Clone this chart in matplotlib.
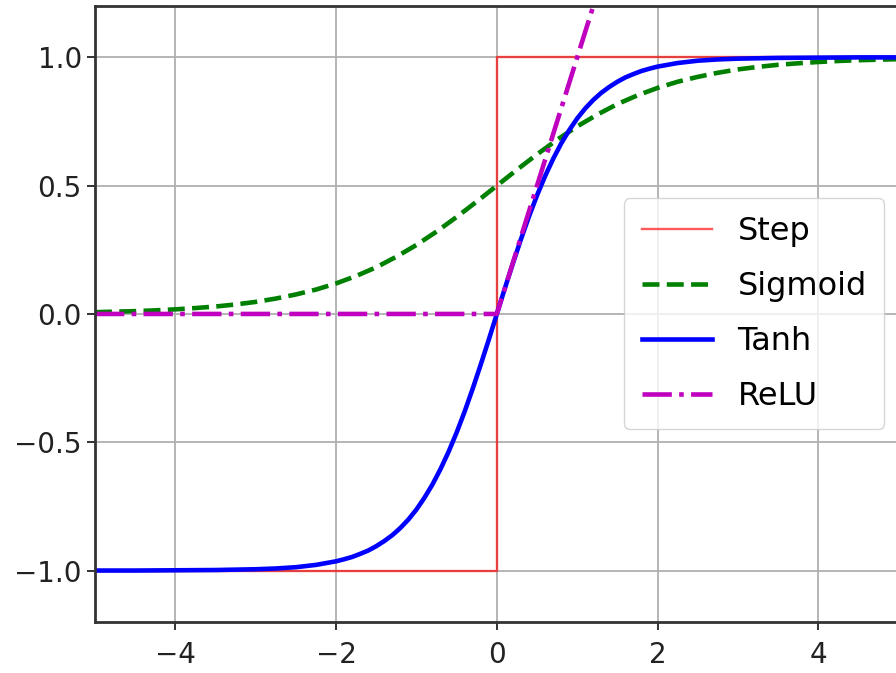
import matplotlib
matplotlib.use("Agg")
import matplotlib.pyplot as plt

# valori letti dal grafico
# sigmoid: passo 0.25 su x
z_sig = [-5.0, -4.75, -4.5, -4.25, -4.0, -3.75, -3.5, -3.25, -3.0, -2.75, -2.5,
         -2.25, -2.0, -1.75, -1.5, -1.25, -1.0, -0.75, -0.5, -0.25, 0.0,
         0.25, 0.5, 0.75, 1.0, 1.25, 1.5, 1.75, 2.0, 2.25, 2.5,
         2.75, 3.0, 3.25, 3.5, 3.75, 4.0, 4.25, 4.5, 4.75, 5.0]
sigmoid_y = [0.007, 0.009, 0.011, 0.014, 0.018, 0.023, 0.029, 0.037, 0.047, 0.060, 0.076,
             0.095, 0.119, 0.148, 0.182, 0.223, 0.269, 0.321, 0.378, 0.438, 0.500,
             0.562, 0.622, 0.679, 0.731, 0.777, 0.818, 0.852, 0.881, 0.905, 0.924,
             0.940, 0.953, 0.963, 0.971, 0.977, 0.982, 0.986, 0.989, 0.991, 0.993]

# tanh: piu fitto vicino allo zero
z_tanh = [-5.0, -4.5, -4.0, -3.5, -3.0, -2.75, -2.5, -2.25, -2.0,
          -1.9, -1.8, -1.7, -1.6, -1.5, -1.4, -1.3, -1.2, -1.1, -1.0,
          -0.9, -0.8, -0.7, -0.6, -0.5, -0.4, -0.3, -0.2, -0.1, 0.0,
          0.1, 0.2, 0.3, 0.4, 0.5, 0.6, 0.7, 0.8, 0.9, 1.0,
          1.1, 1.2, 1.3, 1.4, 1.5, 1.6, 1.7, 1.8, 1.9, 2.0,
          2.25, 2.5, 2.75, 3.0, 3.5, 4.0, 4.5, 5.0]
tanh_y = [-1.000, -1.000, -0.999, -0.998, -0.995, -0.992, -0.987, -0.978, -0.964,
          -0.956, -0.947, -0.935, -0.922, -0.905, -0.885, -0.862, -0.834, -0.801, -0.762,
          -0.716, -0.664, -0.604, -0.537, -0.462, -0.380, -0.291, -0.197, -0.100, 0.000,
          0.100, 0.197, 0.291, 0.380, 0.462, 0.537, 0.604, 0.664, 0.716, 0.762,
          0.801, 0.834, 0.862, 0.885, 0.905, 0.922, 0.935, 0.947, 0.956, 0.964,
          0.978, 0.987, 0.992, 0.995, 0.998, 0.999, 1.000, 1.000]

step_x = [-5, 0, 0, 5]
step_y = [-1, -1, 1, 1]

relu_x = [-5, 0, 5]
relu_y = [0, 0, 5]

fig = plt.figure(figsize=(8.96, 6.73), dpi=100)
ax = fig.add_axes([0.106, 0.076, 0.897, 0.915])

ax.plot(step_x, step_y, "r-", linewidth=1.7, alpha=0.65, label="Step")
ax.plot(z_sig, sigmoid_y, "g--", linewidth=3.3, label="Sigmoid")
ax.plot(z_tanh, tanh_y, "b-", linewidth=3.3, label="Tanh")
ax.plot(relu_x, relu_y, "m-.", linewidth=3.3, label="ReLU")

ax.grid(True, color="#b0b0b0", linewidth=1.3)
ax.axis([-5, 5, -1.2, 1.2])
ax.set_xticks([-4, -2, 0, 2, 4])
ax.set_yticks([-1.0, -0.5, 0.0, 0.5, 1.0])
ax.tick_params(labelsize=20, length=6, width=1.3, colors="#222222")
ax.tick_params(axis="x", pad=8)
for s in ax.spines.values():
    s.set_linewidth(2)
    s.set_color("#333333")

ax.legend(loc="center right", fontsize=23, handlelength=2.2, borderaxespad=0.45,
          labelspacing=0.75, borderpad=0.55)

fig.savefig("out.png", dpi=100)
